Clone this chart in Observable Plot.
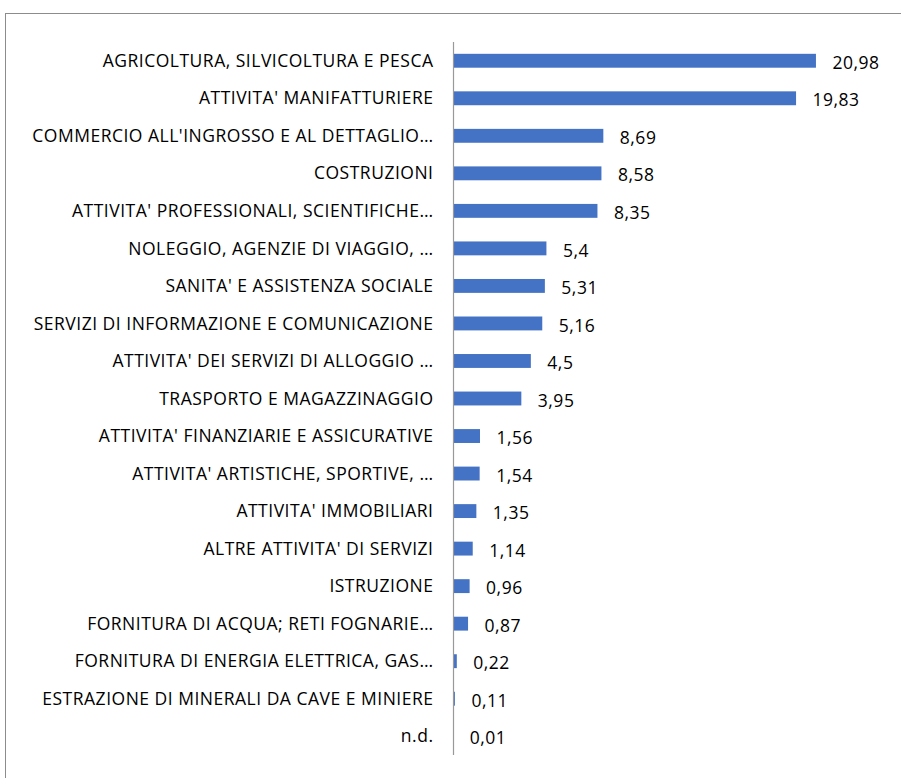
<!DOCTYPE html>
<html>
<head>
<meta charset="utf-8">
<script src="https://cdn.jsdelivr.net/npm/d3@7"></script>
<script src="https://cdn.jsdelivr.net/npm/@observablehq/plot@0.6"></script>
<style>
  html, body { margin: 0; padding: 0; background: #fff; }
  #wrap { position: relative; width: 901px; height: 778px; overflow: hidden; }
  #border { position: absolute; left: 5px; top: 13px; width: 1000px; height: 1000px; border: 1.5px solid #8c8c8c; box-sizing: border-box; }
  #chart { position: absolute; left: 0; top: 0; }
</style>
</head>
<body>
<div id="wrap"><div id="border"></div><div id="chart"></div></div>
<script>
const categories = [
  "AGRICOLTURA, SILVICOLTURA E PESCA",
  "ATTIVITA' MANIFATTURIERE",
  "COMMERCIO ALL'INGROSSO E AL DETTAGLIO…",
  "COSTRUZIONI",
  "ATTIVITA' PROFESSIONALI, SCIENTIFICHE…",
  "NOLEGGIO, AGENZIE DI VIAGGIO, …",
  "SANITA' E ASSISTENZA SOCIALE",
  "SERVIZI DI INFORMAZIONE E COMUNICAZIONE",
  "ATTIVITA' DEI SERVIZI DI ALLOGGIO …",
  "TRASPORTO E MAGAZZINAGGIO",
  "ATTIVITA' FINANZIARIE E ASSICURATIVE",
  "ATTIVITA' ARTISTICHE, SPORTIVE, …",
  "ATTIVITA' IMMOBILIARI",
  "ALTRE ATTIVITA' DI SERVIZI",
  "ISTRUZIONE",
  "FORNITURA DI ACQUA; RETI FOGNARIE…",
  "FORNITURA DI ENERGIA ELETTRICA, GAS…",
  "ESTRAZIONE DI MINERALI DA CAVE E MINIERE",
  "n.d."
];
const values = [20.98, 19.83, 8.69, 8.58, 8.35, 5.4, 5.31, 5.16, 4.5, 3.95, 1.56, 1.54, 1.35, 1.14, 0.96, 0.87, 0.22, 0.11, 0.01];

const data = categories.map((c, i) => ({cat: c, v: values[i]}));
const fmt = v => String(v).replace(".", ",");
const font = "'Open Sans', 'Liberation Sans', sans-serif";

const chart = Plot.plot({
  width: 901,
  height: 778,
  marginLeft: 453,
  marginRight: 15.5,
  marginTop: 42,
  marginBottom: 23,
  style: {fontFamily: font, fontSize: "17.5px", letterSpacing: "0.5px", color: "#000", background: "transparent"},
  x: {domain: [0, 25], axis: null},
  y: {domain: categories, paddingInner: 0.63, paddingOuter: 0.315, round: false, label: null},
  marks: [
    Plot.axisY({tickSize: 0, tickPadding: 20, fontSize: 17.5, label: null}),
    Plot.barX(data, {x: "v", y: "cat", fill: "#4472C4"}),
    Plot.ruleX([0], {stroke: "#999", strokeWidth: 1.2}),
    Plot.text(data, {x: "v", y: "cat", text: d => fmt(d.v), textAnchor: "start", dx: 16, dy: 2, fontSize: 17.5, fill: "#000"})
  ]
});
document.getElementById("chart").appendChild(chart);
</script>
</body>
</html>
